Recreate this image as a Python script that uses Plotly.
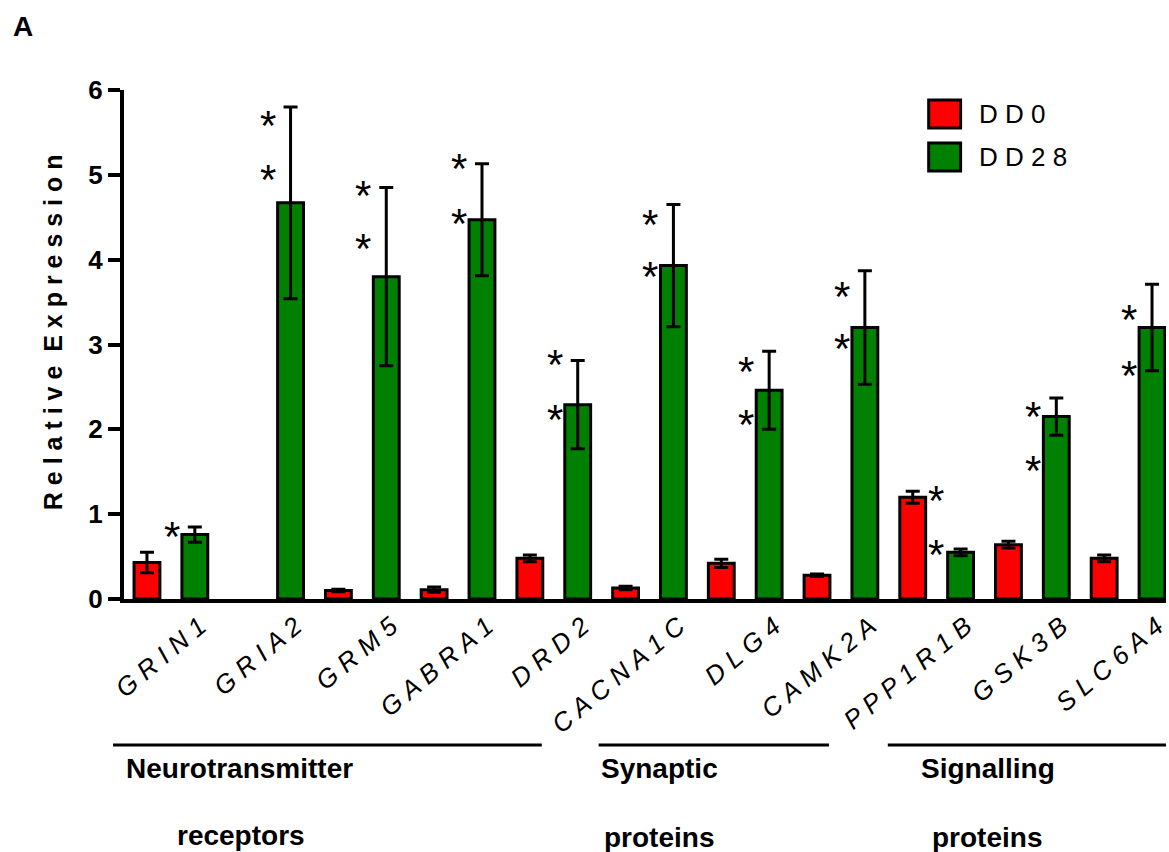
import plotly.graph_objects as go

# ---------------- data ----------------
genes = ["GRIN1", "GRIA2", "GRM5", "GABRA1", "DRD2", "CACNA1C",
         "DLG4", "CAMK2A", "PPP1R1B", "GSK3B", "SLC6A4"]
dd0 = [0.43, None, 0.10, 0.11, 0.48, 0.13, 0.42, 0.28, 1.20, 0.64, 0.48]
dd0_err = [0.12, None, 0.015, 0.03, 0.04, 0.02, 0.05, 0.015, 0.07, 0.04, 0.04]
dd28 = [0.76, 4.67, 3.80, 4.47, 2.29, 3.93, 2.46, 3.20, 0.55, 2.15, 3.20]
dd28_err = [0.09, 1.13, 1.05, 0.66, 0.52, 0.72, 0.46, 0.67, 0.04, 0.22, 0.51]
# significance asterisks (y values) and the series they are attached to
star_y = [[0.81], [5.65, 5.02], [4.83, 4.20], [5.14, 4.50], [2.84, 2.19],
          [4.48, 3.87], [2.75, 2.13], [3.64, 3.02], [1.23, 0.59],
          [2.22, 1.58], [3.36, 2.71]]
star_side = ["DD28", "DD28", "DD28", "DD28", "DD28", "DD28", "DD28",
             "DD28", "DD0", "DD28", "DD28"]
y_ticks = [0, 1, 2, 3, 4, 5, 6]
series_names = ["DD0", "DD28"]
groups = [("Neurotransmitter", "receptors"), ("Synaptic", "proteins"),
          ("Signalling", "proteins")]

FONT = "Arial, Liberation Sans, sans-serif"
W, H = 1169, 852
ML, MR, MT, MB = 124, 0, 90, 253
PW, PH = W - ML - MR, H - MT - MB


def px(x):
    return (x - ML) / PW


def py(y):
    return (H - MB - y) / PH


def spaced(s, gap=" "):
    return gap.join(list(s))


idx = list(range(len(genes)))
off = 0.25
bw = 0.27

fig = go.Figure()
fig.add_trace(go.Bar(
    x=[i - off for i in idx], y=dd0, width=bw, name="DD0",
    marker=dict(color="#FF0000", line=dict(color="black", width=3)),
    error_y=dict(type="data", array=dd0_err, color="black", thickness=3, width=7),
    showlegend=False))
fig.add_trace(go.Bar(
    x=[i + off for i in idx], y=dd28, width=bw, name="DD28",
    marker=dict(color="#008000", line=dict(color="black", width=3)),
    error_y=dict(type="data", array=dd28_err, color="black", thickness=3, width=7),
    showlegend=False))

annotations = []
# asterisks
for i, ys in enumerate(star_y):
    xs = i + off - 0.24 if star_side[i] == "DD28" else i - off + 0.24
    for yv in ys:
        annotations.append(dict(x=xs, y=yv, xref="x", yref="y", text="*",
                                showarrow=False, xanchor="center", yanchor="middle",
                                yshift=-6, font=dict(family=FONT, size=42, color="black")))

# panel label
annotations.append(dict(x=px(11), y=py(27), xref="paper", yref="paper", text="<b>A</b>",
                        showarrow=False, xanchor="left", yanchor="middle",
                        font=dict(family=FONT, size=28, color="black")))
# y title
annotations.append(dict(x=px(53), y=py(332), xref="paper", yref="paper",
                        text="<b>" + "\u00a0".join(list("Relative")) + "\u00a0\u00a0"
                        + "\u00a0".join(list("Expression")) + "</b>",
                        textangle=-90, showarrow=False, xanchor="center", yanchor="middle",
                        font=dict(family=FONT, size=25, color="black")))

# legend (manual)
shapes = []
leg_boxes = [(100, 128, "#FF0000"), (143, 171, "#008000")]
for (y0, y1, col), name in zip(leg_boxes, series_names):
    shapes.append(dict(type="rect", xref="paper", yref="paper",
                       x0=px(931), x1=px(963), y0=py(y1), y1=py(y0),
                       fillcolor=col, line=dict(color="black", width=3)))
    annotations.append(dict(x=px(979), y=py((y0 + y1) / 2), xref="paper", yref="paper",
                            text="\u00a0".join(list(name)), showarrow=False,
                            xanchor="left", yanchor="middle",
                            font=dict(family=FONT, size=26, color="black")))

# group lines and labels
line_spans = [(113, 543), (600, 831), (890, 1169)]
label_pos = [((124, 768), (175, 835)), ((600, 768), (603, 837)), ((921, 768), (932, 837))]
for (x0, x1), (l1, l2), pos in zip(line_spans, groups, label_pos):
    shapes.append(dict(type="line", xref="paper", yref="paper",
                       x0=px(x0), x1=px(x1), y0=py(745), y1=py(745),
                       line=dict(color="black", width=3)))
    for text, (lx, ly) in zip((l1, l2), pos):
        annotations.append(dict(x=px(lx), y=py(ly), xref="paper", yref="paper",
                                text="<b>" + text + "</b>", showarrow=False,
                                xanchor="left", yanchor="middle",
                                font=dict(family=FONT, size=28, color="black")))

fig.update_layout(
    width=W, height=H, autosize=False,
    margin=dict(l=ML, r=MR, t=MT, b=MB, pad=0),
    paper_bgcolor="white", plot_bgcolor="white",
    barmode="overlay",
    font=dict(family=FONT, color="black"),
    shapes=shapes, annotations=annotations,
    xaxis=dict(range=[-0.49, 10.396], tickmode="array",
               tickvals=[i + 0.3 for i in idx],
               ticktext=[spaced(g) for g in genes],
               tickangle=-40, ticks="", showgrid=False, zeroline=False,
               showline=True, linecolor="black", linewidth=4,
               ticklabeloverflow="allow", ticklabelstandoff=-2,
               tickfont=dict(family=FONT, size=26, style="italic", color="black")),
    yaxis=dict(range=[0, 6], tickmode="array", tickvals=y_ticks,
               ticktext=["<b>%d</b>" % t for t in y_ticks],
               ticks="outside", ticklen=12, tickwidth=4, tickcolor="black",
               showgrid=False, zeroline=False, showline=True,
               linecolor="black", linewidth=4,
               tickfont=dict(family=FONT, size=26, color="black")),
)

fig.write_html("out.html")
